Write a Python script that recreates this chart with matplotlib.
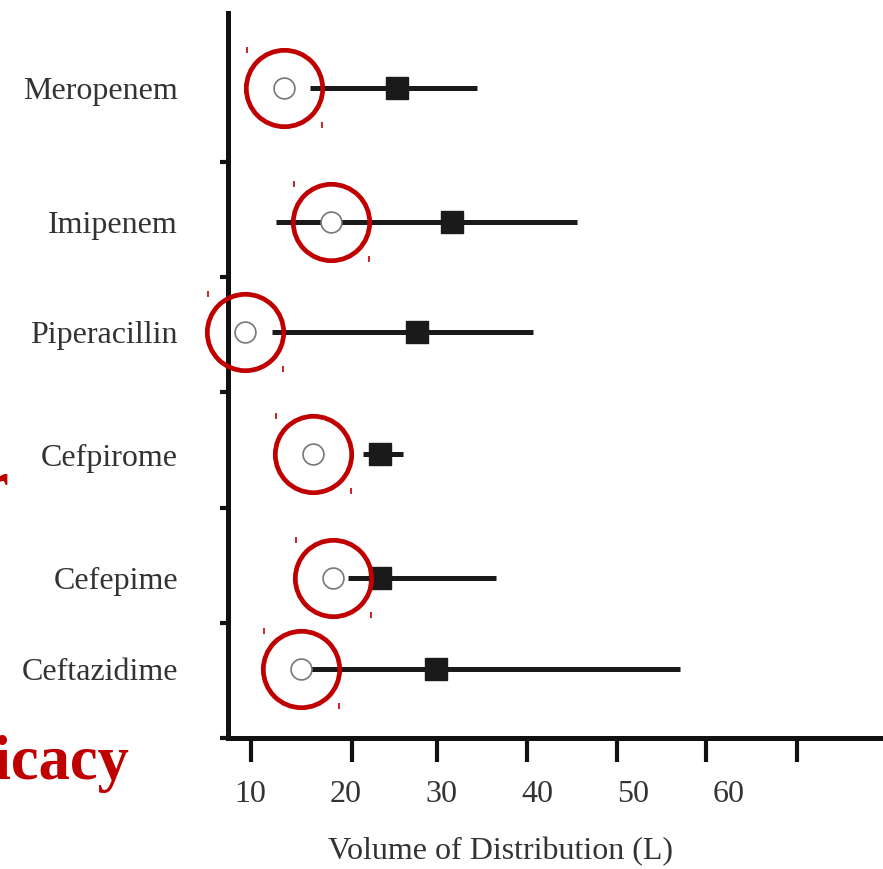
import matplotlib
matplotlib.use('Agg')
import matplotlib.pyplot as plt
import matplotlib.transforms as mtransforms

plt.rcParams['font.family'] = ['Liberation Serif', 'DejaVu Serif']

# data
drugs = ['Meropenem', 'Imipenem', 'Piperacillin', 'Cefpirome', 'Cefepime', 'Ceftazidime']
open_val = [13.6, 18.5, 9.5, 16.6, 18.7, 15.3]
square_val = [25.3, 31.1, 27.4, 23.6, 23.6, 29.4]
range_lo = [16.3, 12.7, 12.3, 21.8, 20.2, 15.5]
range_hi = [33.7, 44.1, 39.5, 26.0, 35.7, 54.9]
x_labels = [10, 20, 30, 40, 50, 60]

# layout: rows are not evenly spaced in the original
row_y = [5.64, 4.48, 3.52, 2.46, 1.39, 0.60]
y_marks = [0, 1, 2, 3, 4, 5]
x_marks = [10.1, 20.6, 29.5, 38.9, 48.3, 57.6, 67.1]

red = '#c00000'
ink = '#1a1a1a'

fig = plt.figure(figsize=(8.83, 8.69), dpi=100)
ax = fig.add_axes([0.2582, 0.1507, 0.7418, 0.8343])

for i in range(len(drugs)):
    ax.plot([range_lo[i], range_hi[i]], [row_y[i], row_y[i]], color=ink, lw=3.6,
            solid_capstyle='butt', zorder=2)
ax.plot(square_val, row_y, 's', color=ink, ms=16, zorder=3)
ax.plot(open_val, row_y, 'o', mfc='white', mec='#777777', mew=1.2, ms=15, zorder=4)

# red highlight circles with their little corner marks
ax.plot(open_val, row_y, 'o', mfc='none', mec=red, mew=3.4, ms=55, zorder=5,
        clip_on=False)
tl = ax.transData + mtransforms.ScaledTranslation(-0.37, 0.38, fig.dpi_scale_trans)
br = ax.transData + mtransforms.ScaledTranslation(0.38, -0.37, fig.dpi_scale_trans)
ax.plot(open_val, row_y, '|', color=red, ms=4, mew=1.2, transform=tl, zorder=5,
        clip_on=False)
ax.plot(open_val, row_y, '|', color=red, ms=4, mew=1.2, transform=br, zorder=5,
        clip_on=False)

ax.set_xlim(7.7, 76.1)
ax.set_ylim(0, 6.29)

ax.spines['top'].set_visible(False)
ax.spines['right'].set_visible(False)
for s in ['left', 'bottom']:
    ax.spines[s].set_linewidth(3.6)
    ax.spines[s].set_color('#111111')
    ax.spines[s].set_zorder(1)

ax.set_yticks(row_y)
ax.set_yticklabels(drugs, fontsize=23, color='#333333')
ax.set_yticks(y_marks, minor=True)
ax.tick_params(axis='y', which='major', length=0, pad=36)
ax.tick_params(axis='y', which='minor', length=6, width=3, color='#111111')

ax.set_xticks(x_labels)
ax.set_xticklabels([str(v) for v in x_labels], fontsize=23, color='#333333')
ax.set_xticks(x_marks, minor=True)
ax.tick_params(axis='x', which='major', length=0, pad=30)
ax.tick_params(axis='x', which='minor', length=17, width=3, color='#111111')

ax.set_xlabel('Volume of Distribution (L)', fontsize=23, color='#333333')
ax.xaxis.set_label_coords((501 - 228) / 655, -(852 - 738) / 725)
ax.xaxis.label.set_va('center')

# red heading text that runs off the left edge, as in the original
fig.text(130 / 883, 1 - 779 / 869, 'Efficacy', ha='right', va='baseline',
         fontsize=45, weight='bold', color=red)
fig.text(8 / 883, 1 - 504 / 869, 'r', ha='right', va='baseline',
         fontsize=45, weight='bold', color=red)

fig.savefig('out.png', dpi=100)
